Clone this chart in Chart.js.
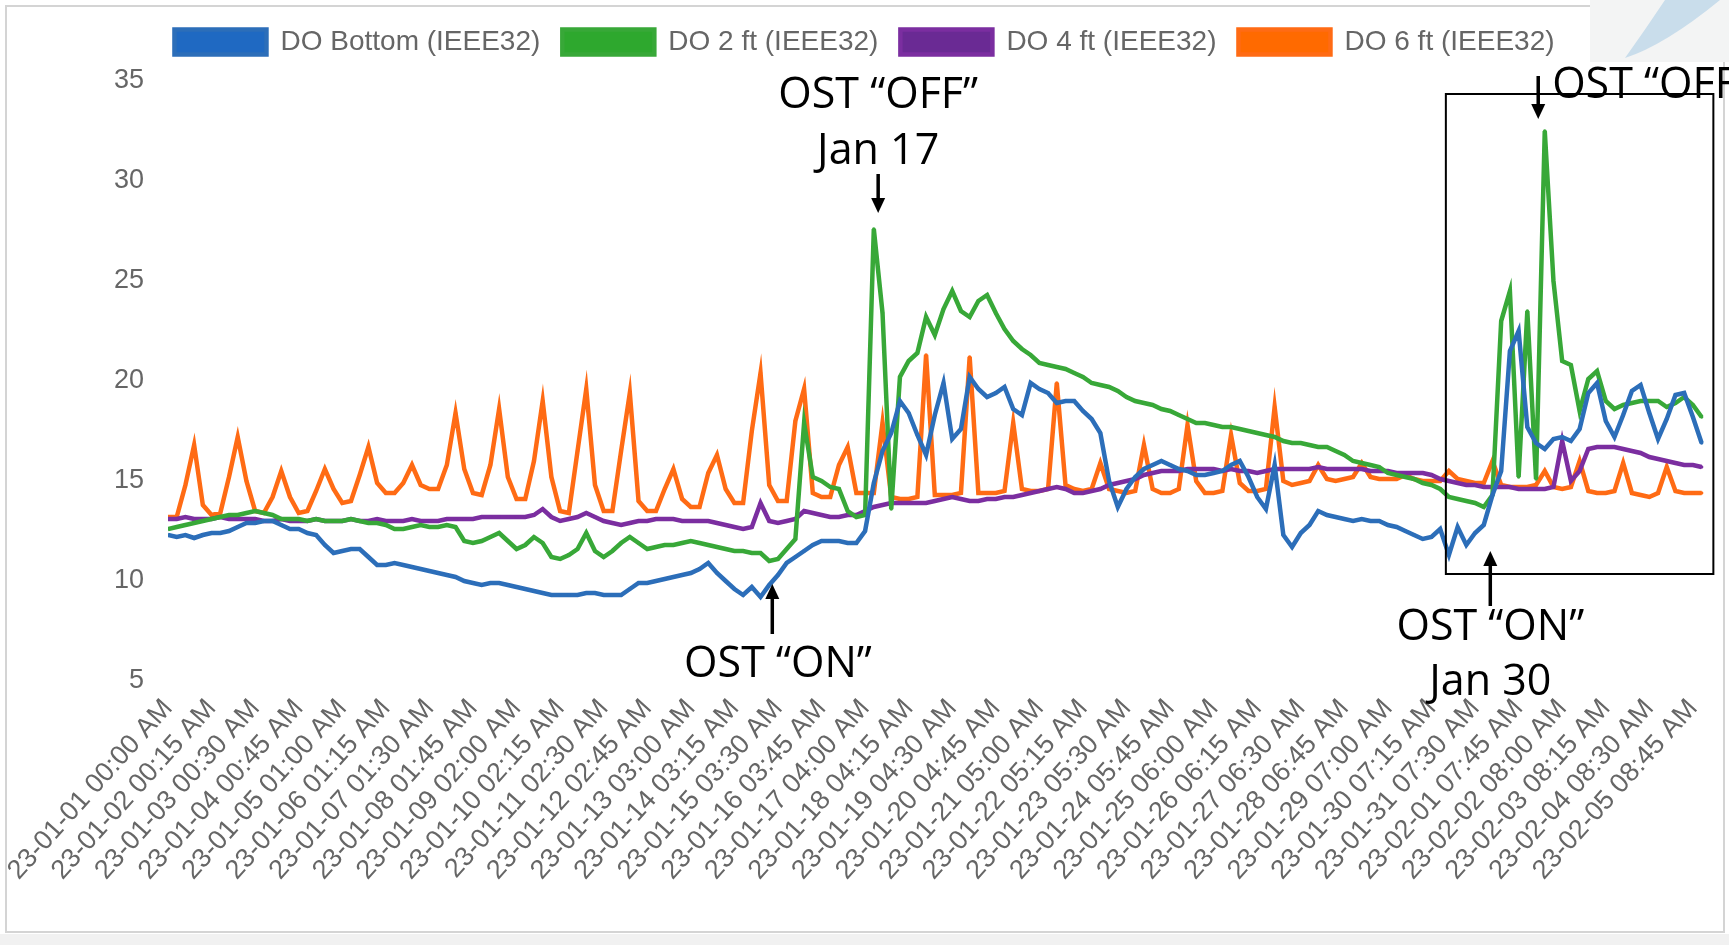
<!DOCTYPE html>
<html>
<head>
<meta charset="utf-8">
<title>DO (IEEE32)</title>
<script src="https://cdn.jsdelivr.net/npm/chart.js@4.4.1/dist/chart.umd.min.js"></script>
<style>
  html, body { margin: 0; padding: 0; background: #fff; overflow: hidden; }
  #wrap { position: absolute; left: 0; top: 0; width: 1729px; height: 945px; }
</style>
</head>
<body>
<div id="wrap"><canvas id="doChart" width="1729" height="945"></canvas></div>
<script>
// one tick per day, 5 readings per tick
const pointsPerDay = 5;

const tickLabels = [
  "23-01-01 00:00 AM", "23-01-02 00:15 AM", "23-01-03 00:30 AM", "23-01-04 00:45 AM",
  "23-01-05 01:00 AM", "23-01-06 01:15 AM", "23-01-07 01:30 AM", "23-01-08 01:45 AM",
  "23-01-09 02:00 AM", "23-01-10 02:15 AM", "23-01-11 02:30 AM", "23-01-12 02:45 AM",
  "23-01-13 03:00 AM", "23-01-14 03:15 AM", "23-01-15 03:30 AM", "23-01-16 03:45 AM",
  "23-01-17 04:00 AM", "23-01-18 04:15 AM", "23-01-19 04:30 AM", "23-01-20 04:45 AM",
  "23-01-21 05:00 AM", "23-01-22 05:15 AM", "23-01-23 05:30 AM", "23-01-24 05:45 AM",
  "23-01-25 06:00 AM", "23-01-26 06:15 AM", "23-01-27 06:30 AM", "23-01-28 06:45 AM",
  "23-01-29 07:00 AM", "23-01-30 07:15 AM", "23-01-31 07:30 AM", "23-02-01 07:45 AM",
  "23-02-02 08:00 AM", "23-02-03 08:15 AM", "23-02-04 08:30 AM", "23-02-05 08:45 AM"
];

const seriesNames = ["DO Bottom (IEEE32)", "DO 2 ft (IEEE32)", "DO 4 ft (IEEE32)", "DO 6 ft (IEEE32)"];

const doBottom = [
  12.3, 12.2, 12.3, 12.15, 12.3,
  12.4, 12.4, 12.5, 12.7, 12.9,
  12.9, 13.0, 13.0, 12.8, 12.6,
  12.6, 12.4, 12.3, 11.8, 11.4,
  11.5, 11.6, 11.6, 11.2, 10.8,
  10.8, 10.9, 10.8, 10.7, 10.6,
  10.5, 10.4, 10.3, 10.2, 10.0,
  9.9, 9.8, 9.9, 9.9, 9.8,
  9.7, 9.6, 9.5, 9.4, 9.3,
  9.3, 9.3, 9.3, 9.4, 9.4,
  9.3, 9.3, 9.3, 9.6, 9.9,
  9.9, 10.0, 10.1, 10.2, 10.3,
  10.4, 10.6, 10.9, 10.4, 10.0,
  9.6, 9.3, 9.7, 9.2, 9.8,
  10.3, 10.9, 11.2, 11.5, 11.8,
  12.0, 12.0, 12.0, 11.9, 11.9,
  12.5, 14.9, 16.5, 17.4, 19.0,
  18.4, 17.3, 16.3, 18.3, 19.9,
  17.1, 17.6, 20.2, 19.6, 19.2,
  19.4, 19.7, 18.6, 18.3, 19.9,
  19.6, 19.4, 18.9, 19.0, 19.0,
  18.5, 18.1, 17.4, 15.0, 13.7,
  14.6, 15.2, 15.6, 15.8, 16.0,
  15.8, 15.6, 15.5, 15.3, 15.3,
  15.4, 15.5, 15.8, 16.0, 15.2,
  14.2, 13.6, 15.8, 12.3, 11.7,
  12.4, 12.8, 13.5, 13.3, 13.2,
  13.1, 13.0, 13.1, 13.0, 13.0,
  12.8, 12.7, 12.5, 12.3, 12.1,
  12.2, 12.6, 11.3, 12.7, 11.8,
  12.4, 12.8, 14.3, 15.5, 21.5,
  22.5, 17.7, 16.9, 16.6, 17.1,
  17.2, 17.0, 17.6, 19.4, 19.9,
  18.0, 17.2, 18.3, 19.5, 19.8,
  18.4, 17.1, 18.1, 19.3, 19.4,
  18.2, 16.9
];

const do2ft = [
  12.6, 12.7, 12.8, 12.9, 13.0,
  13.1, 13.2, 13.3, 13.3, 13.4,
  13.5, 13.4, 13.3, 13.1, 13.1,
  13.1, 13.0, 13.1, 13.0, 13.0,
  13.0, 13.1, 13.0, 12.9, 12.9,
  12.8, 12.6, 12.6, 12.7, 12.8,
  12.7, 12.7, 12.8, 12.7, 12.0,
  11.9, 12.0, 12.2, 12.4, 12.0,
  11.6, 11.8, 12.2, 11.9, 11.2,
  11.1, 11.3, 11.6, 12.4, 11.5,
  11.2, 11.5, 11.9, 12.2, 11.9,
  11.6, 11.7, 11.8, 11.8, 11.9,
  12.0, 11.9, 11.8, 11.7, 11.6,
  11.5, 11.5, 11.4, 11.4, 11.0,
  11.1, 11.6, 12.1, 17.9, 15.2,
  15.0, 14.7, 14.6, 13.5, 13.2,
  13.3, 27.6, 23.4, 13.6, 20.2,
  21.0, 21.4, 23.2, 22.3, 23.6,
  24.5, 23.5, 23.2, 24.0, 24.3,
  23.4, 22.6, 22.0, 21.6, 21.3,
  20.9, 20.8, 20.7, 20.6, 20.4,
  20.2, 19.9, 19.8, 19.7, 19.5,
  19.2, 19.0, 18.9, 18.8, 18.6,
  18.5, 18.3, 18.1, 17.9, 17.9,
  17.8, 17.7, 17.7, 17.6, 17.5,
  17.4, 17.3, 17.2, 17.0, 16.9,
  16.9, 16.8, 16.7, 16.7, 16.5,
  16.3, 16.0, 15.9, 15.8, 15.7,
  15.4, 15.3, 15.2, 15.1, 14.9,
  14.8, 14.6, 14.2, 14.1, 14.0,
  13.9, 13.7, 14.3, 23.0, 24.5,
  15.2, 23.5, 15.1, 32.5, 25.0,
  21.0, 20.8, 18.5, 20.1, 20.5,
  19.0, 18.6, 18.8, 18.9, 19.0,
  19.0, 19.0, 18.7, 18.9, 19.2,
  18.8, 18.2
];

const do4ft = [
  13.1, 13.1, 13.2, 13.1, 13.1,
  13.1, 13.2, 13.1, 13.1, 13.1,
  13.1, 13.0, 13.0, 13.1, 13.0,
  13.0, 13.0, 13.1, 13.0, 13.0,
  13.0, 13.1, 13.0, 13.0, 13.1,
  13.0, 13.0, 13.0, 13.1, 13.0,
  13.0, 13.0, 13.1, 13.1, 13.1,
  13.1, 13.2, 13.2, 13.2, 13.2,
  13.2, 13.2, 13.3, 13.6, 13.2,
  13.0, 13.1, 13.2, 13.4, 13.2,
  13.0, 12.9, 12.8, 12.9, 13.0,
  13.0, 13.1, 13.1, 13.1, 13.0,
  13.0, 13.0, 13.0, 12.9, 12.8,
  12.7, 12.6, 12.7, 13.9, 13.0,
  12.9, 13.0, 13.1, 13.5, 13.4,
  13.3, 13.2, 13.2, 13.3, 13.3,
  13.5, 13.7, 13.8, 13.9, 13.9,
  13.9, 13.9, 13.9, 14.0, 14.1,
  14.2, 14.1, 14.0, 14.0, 14.1,
  14.1, 14.2, 14.2, 14.3, 14.4,
  14.5, 14.6, 14.7, 14.6, 14.4,
  14.4, 14.5, 14.6, 14.8, 14.9,
  15.0, 15.1, 15.3, 15.4, 15.5,
  15.5, 15.5, 15.6, 15.6, 15.6,
  15.6, 15.5, 15.6, 15.5, 15.5,
  15.4, 15.5, 15.6, 15.6, 15.6,
  15.6, 15.6, 15.7, 15.6, 15.6,
  15.6, 15.6, 15.6, 15.5, 15.5,
  15.5, 15.4, 15.4, 15.4, 15.4,
  15.3, 15.1, 15.0, 14.9, 14.8,
  14.8, 14.7, 14.7, 14.7, 14.7,
  14.6, 14.6, 14.6, 14.6, 14.7,
  17.0, 15.0, 15.5, 16.6, 16.7,
  16.7, 16.7, 16.6, 16.5, 16.4,
  16.2, 16.1, 16.0, 15.9, 15.8,
  15.8, 15.7
];

const do6ft = [
  13.2, 13.2, 14.8, 16.8, 13.8,
  13.3, 13.4, 15.2, 17.2, 15.0,
  13.5, 13.4, 14.2, 15.5, 14.2,
  13.4, 13.5, 14.5, 15.6, 14.6,
  13.9, 14.0, 15.3, 16.7, 14.9,
  14.4, 14.4, 14.9, 15.8, 14.8,
  14.6, 14.6, 15.8, 18.4, 15.6,
  14.4, 14.3, 15.8, 18.6, 15.2,
  14.1, 14.1, 16.0, 19.0, 15.2,
  13.5, 13.4, 16.5, 19.6, 14.8,
  13.5, 13.5, 16.5, 19.4, 14.0,
  13.5, 13.5, 14.6, 15.6, 14.1,
  13.7, 13.7, 15.4, 16.3, 14.6,
  13.9, 13.9, 17.5, 20.4, 14.8,
  14.0, 14.0, 18.0, 19.6, 14.4,
  14.2, 14.2, 15.8, 16.7, 14.4,
  14.4, 14.4, 17.9, 14.2, 14.1,
  14.1, 14.2, 21.3, 14.3, 14.3,
  14.3, 14.4, 21.2, 14.4, 14.4,
  14.4, 14.5, 17.9, 14.6, 14.5,
  14.5, 14.6, 19.9, 14.8, 14.6,
  14.5, 14.6, 15.9, 14.6, 14.5,
  14.4, 14.5, 16.8, 14.6, 14.4,
  14.4, 14.6, 17.8, 15.0, 14.4,
  14.4, 14.5, 17.3, 14.9, 14.5,
  14.5, 14.6, 18.7, 15.0, 14.8,
  14.9, 15.0, 15.8, 15.1, 15.0,
  15.1, 15.2, 15.9, 15.2, 15.1,
  15.1, 15.1, 15.3, 15.1, 15.0,
  15.0, 15.0, 15.5, 15.1, 15.0,
  14.9, 14.9, 16.0, 14.8, 14.7,
  14.7, 14.7, 14.8, 15.5, 14.7,
  14.6, 14.7, 16.0, 14.5, 14.4,
  14.4, 14.5, 15.9, 14.4, 14.3,
  14.2, 14.4, 15.7, 14.5, 14.4,
  14.4, 14.4
];

const lineColors = ["#2c6eb9", "#38a838", "#7b2ea0", "#ff6b14"];
const boxColors = ["#1f69c2", "#2ea82e", "#6a2a94", "#ff6a00"];

// callouts, placed in data units (x = day index, y = DO)
const noteTexts = [
  { text: "OST \u201COFF\u201D", x: 16.3, y: 34.25, align: "center" },
  { text: "Jan 17", x: 16.3, y: 31.45, align: "center" },
  { text: "OST \u201CON\u201D", x: 14.0, y: 5.8, align: "center" },
  { text: "OST \u201COFF\u201D", x: 31.77, y: 34.75, align: "left" },
  { text: "OST \u201CON\u201D", x: 30.35, y: 7.65, align: "center" },
  { text: "Jan 30", x: 30.35, y: 4.9, align: "center" }
];
const noteArrows = [
  { x: 16.3, from: 30.35, to: 28.4 },
  { x: 13.87, from: 7.35, to: 9.85 },
  { x: 31.45, from: 35.25, to: 33.1 },
  { x: 30.35, from: 8.75, to: 11.5 }
];
const noteBox = { x0: 29.33, x1: 35.47, y0: 34.35, y1: 10.35 };

const FONT = "'Liberation Sans', Arial, Helvetica, sans-serif";
Chart.defaults.font.family = FONT;
Chart.defaults.color = "#666";

function makeSeries(i, values) {
  return {
    label: seriesNames[i],
    data: values.map((v, k) => ({ x: k / pointsPerDay, y: v })),
    borderColor: lineColors[i],
    backgroundColor: boxColors[i],
    pointBackgroundColor: lineColors[i],
    pointBorderColor: lineColors[i],
    borderWidth: 4.5,
    pointRadius: 1.8,
    pointBorderWidth: 0,
    pointHoverRadius: 0,
    tension: 0
  };
}

// a bit more room under the legend
const legendGap = {
  id: "legendGap",
  beforeLayout(chart) {
    const lg = chart.legend;
    if (lg && !lg._gapAdded) {
      const fit = lg.fit;
      lg.fit = function () { fit.call(this); this.height += 15; };
      lg._gapAdded = true;
    }
  }
};

const notesPlugin = {
  id: "ostNotes",
  beforeDraw(chart) {
    const ctx = chart.ctx;
    ctx.save();
    ctx.fillStyle = "#fff";
    ctx.fillRect(0, 0, chart.width, chart.height);
    ctx.fillStyle = "#f1f1f1";
    ctx.fillRect(0, 934, chart.width, 11);
    ctx.strokeStyle = "#d4d4d4";
    ctx.lineWidth = 2;
    ctx.strokeRect(6, 6, 1718, 926);
    // slide decoration peeking in at the top right
    ctx.fillStyle = "#f3f4f4";
    ctx.fillRect(1590, 0, 139, 62);
    ctx.fillStyle = "rgba(190, 215, 232, 0.8)";
    ctx.beginPath();
    ctx.moveTo(1665, 0);
    ctx.quadraticCurveTo(1645, 30, 1625, 58);
    ctx.quadraticCurveTo(1665, 45, 1720, 0);
    ctx.closePath();
    ctx.fill();
    ctx.restore();
  },
  afterDraw(chart) {
    const { ctx, scales: { x, y } } = chart;
    ctx.save();
    ctx.fillStyle = "#000";
    ctx.strokeStyle = "#000";
    ctx.font = "43px 'Open Sans', 'Noto Sans', sans-serif";
    ctx.textBaseline = "middle";
    noteTexts.forEach(n => {
      ctx.textAlign = n.align;
      ctx.fillText(n.text, x.getPixelForValue(n.x), y.getPixelForValue(n.y));
    });
    noteArrows.forEach(a => {
      const px = x.getPixelForValue(a.x);
      const y0 = y.getPixelForValue(a.from);
      const y1 = y.getPixelForValue(a.to);
      const dir = y1 > y0 ? 1 : -1;
      ctx.lineWidth = 3.5;
      ctx.beginPath();
      ctx.moveTo(px, y0);
      ctx.lineTo(px, y1 - dir * 12);
      ctx.stroke();
      ctx.beginPath();
      ctx.moveTo(px - 7, y1 - dir * 15);
      ctx.lineTo(px + 7, y1 - dir * 15);
      ctx.lineTo(px, y1);
      ctx.closePath();
      ctx.fill();
    });
    const bx0 = x.getPixelForValue(noteBox.x0);
    const bx1 = x.getPixelForValue(noteBox.x1);
    const by0 = y.getPixelForValue(noteBox.y0);
    const by1 = y.getPixelForValue(noteBox.y1);
    ctx.lineWidth = 2;
    ctx.strokeRect(bx0, by0, bx1 - bx0, by1 - by0);
    ctx.restore();
  }
};

new Chart(document.getElementById("doChart"), {
  type: "line",
  data: {
    datasets: [
      makeSeries(0, doBottom),
      makeSeries(1, do2ft),
      makeSeries(2, do4ft),
      makeSeries(3, do6ft)
    ]
  },
  options: {
    responsive: false,
    devicePixelRatio: 1,
    animation: false,
    layout: { padding: { top: 6, right: 0, left: 0, bottom: 0 } },
    plugins: {
      legend: {
        position: "top",
        labels: { boxWidth: 92, boxHeight: 25, padding: 22, color: "#666", font: { size: 28, family: FONT } }
      },
      tooltip: { enabled: false }
    },
    scales: {
      x: {
        type: "linear",
        min: 0,
        max: 35.68,
        grid: { display: false, drawTicks: false },
        border: { display: false },
        ticks: {
          stepSize: 1,
          autoSkip: false,
          includeBounds: false,
          minRotation: 48,
          maxRotation: 48,
          padding: 12,
          color: "#666",
          font: { size: 27, family: FONT },
          callback: v => tickLabels[v] || ""
        },
        afterFit: s => { s.height = 264; }
      },
      y: {
        min: 5,
        max: 35,
        grid: { display: false, drawTicks: false },
        border: { display: false },
        ticks: { stepSize: 5, padding: 24, color: "#666", font: { size: 27, family: FONT } },
        afterFit: s => { s.width = 168; }
      }
    }
  },
  plugins: [legendGap, notesPlugin]
});
</script>
</body>
</html>
